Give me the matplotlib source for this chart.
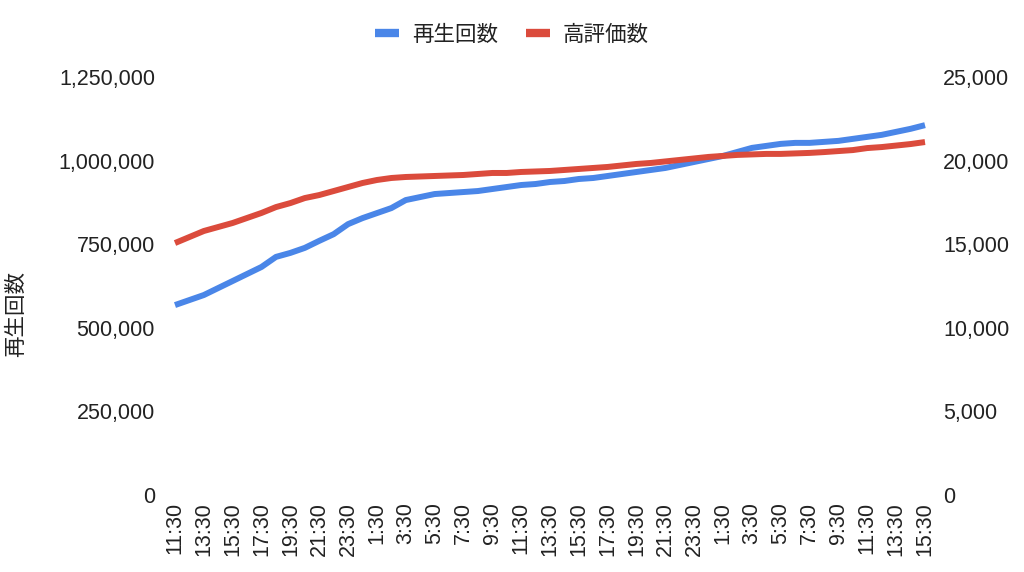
import matplotlib
matplotlib.use("Agg")
import matplotlib.pyplot as plt
from matplotlib.ticker import FuncFormatter, MultipleLocator
from matplotlib.lines import Line2D

plt.rcParams['font.family'] = ['Liberation Sans', 'Noto Sans CJK JP', 'DejaVu Sans']

# hourly samples from 11:30 (day 1) to 15:30 (day 3)
hours = [(11 + i) % 24 for i in range(53)]
time_labels = [f"{h}:30" for h in hours]

plays = [568000, 583000, 598000, 619000, 640000, 661000, 682000, 712000, 724000, 739000,
         760000, 780000, 810000, 828000, 843000, 858000, 882000, 891000, 900000, 903000,
         906000, 909000, 915000, 921000, 927000, 930000, 936000, 939000, 945000, 948000,
         954000, 960000, 966000, 972000, 978000, 987000, 996000, 1005000, 1014000, 1026000,
         1038000, 1044000, 1050000, 1053000, 1053000, 1056000, 1059000, 1065000, 1071000, 1077000,
         1086000, 1095000, 1106000]

likes = [15070, 15430, 15790, 16030, 16270, 16570, 16870, 17220, 17460, 17760,
         17940, 18180, 18420, 18660, 18840, 18960, 19020, 19050, 19080, 19110,
         19140, 19200, 19260, 19260, 19320, 19350, 19380, 19440, 19500, 19560,
         19620, 19710, 19800, 19860, 19950, 20040, 20130, 20220, 20280, 20340,
         20370, 20400, 20400, 20430, 20460, 20510, 20570, 20630, 20750, 20810,
         20900, 20990, 21110]

series_names = ["再生回数", "高評価数"]
blue = "#4a86e8"
red = "#db4b3c"
text_color = "#222222"
fs = 15.5

fig = plt.figure(figsize=(10.24, 5.72), dpi=100)
ax = fig.add_axes([175/1024, 1 - 495/572, 750/1024, 418/572])
ax2 = ax.twinx()

x = list(range(len(plays)))
ax.plot(x, plays, color=blue, lw=4.3, solid_capstyle='butt', solid_joinstyle='round',
        clip_on=False, zorder=3)
ax2.plot(x, likes, color=red, lw=4.3, solid_capstyle='butt', solid_joinstyle='round',
         clip_on=False, zorder=3)

ax.set_xlim(0, len(plays) - 1)
ax.set_ylim(0, 1250000)
ax2.set_ylim(0, 25000)
ax.yaxis.set_major_locator(MultipleLocator(250000))
ax2.yaxis.set_major_locator(MultipleLocator(5000))
fmt = FuncFormatter(lambda v, p: f"{int(v):,}")
ax.yaxis.set_major_formatter(fmt)
ax2.yaxis.set_major_formatter(fmt)

ax.set_xticks(x[::2])
ax.set_xticklabels(time_labels[::2], rotation=90, va='top', ha='center')

for a in (ax, ax2):
    for s in a.spines.values():
        s.set_visible(False)
    a.tick_params(length=0, labelsize=fs, labelcolor=text_color)
ax.tick_params(axis='y', pad=14.4)
ax2.tick_params(axis='y', pad=13)
ax.tick_params(axis='x', pad=5, labelsize=fs)

fig.text(17/1024, 1 - 314/572, "再生回数", rotation=90, ha='center', va='center',
         fontsize=fs, color=text_color)

handles = [Line2D([0], [0], color=blue, lw=6, solid_capstyle='butt'),
           Line2D([0], [0], color=red, lw=6, solid_capstyle='butt')]
fig.legend(handles, series_names, loc='center', bbox_to_anchor=(0.5, 1 - 35/572), ncol=2,
           frameon=False, fontsize=fs, handlelength=1.1, handletextpad=0.6,
           columnspacing=1.3, labelcolor=text_color)

fig.savefig("out.png", dpi=100)
